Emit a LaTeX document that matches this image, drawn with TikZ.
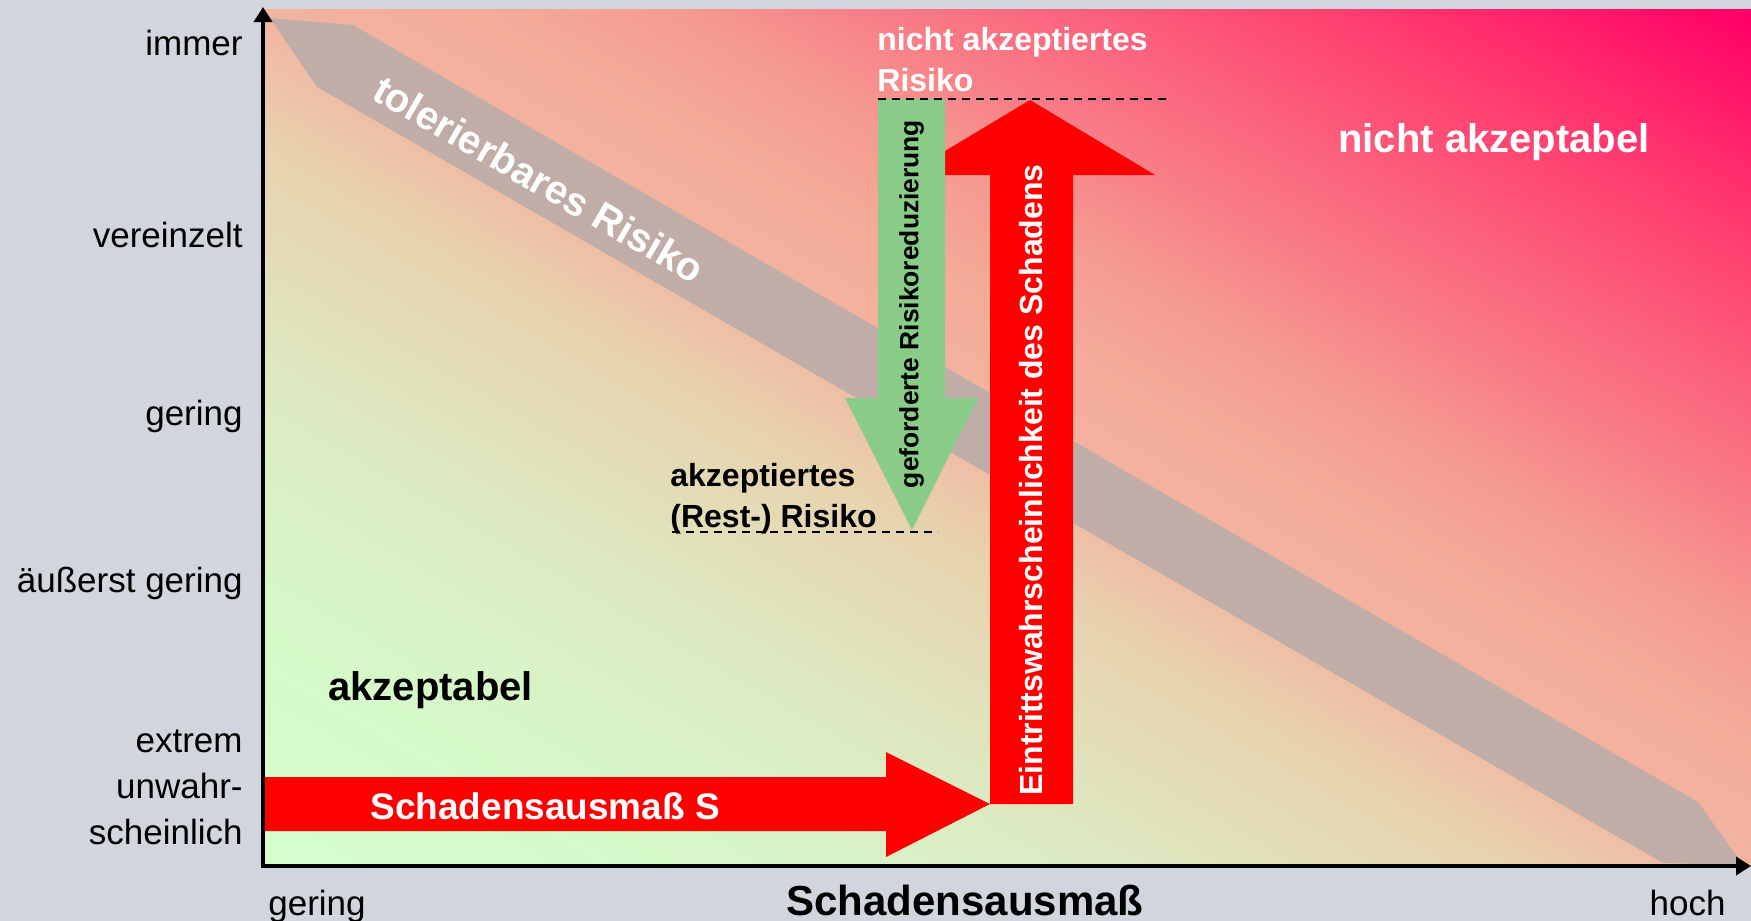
\documentclass[tikz,border=0pt]{standalone}
\usepackage{fontspec}
\setmainfont{Liberation Sans}
\usetikzlibrary{arrows.meta}

\definecolor{bggray}{HTML}{D1D5DE}
\definecolor{riskred}{HTML}{FF0000}
\definecolor{riskgreen}{HTML}{88CC88}
\definecolor{bandgray}{HTML}{C1ADA8}
\definecolor{fieldA}{HTML}{D4FFCC}
\definecolor{fieldB}{HTML}{D6F8C8}
\definecolor{fieldC}{HTML}{DDEAC2}
\definecolor{fieldD}{HTML}{E8D2AE}
\definecolor{fieldE}{HTML}{F2B4A0}
\definecolor{fieldF}{HTML}{F4AA98}
\definecolor{fieldG}{HTML}{F59A90}
\definecolor{fieldH}{HTML}{F88088}
\definecolor{fieldJ}{HTML}{FF4070}
\definecolor{fieldK}{HTML}{FF0066}

\pgfdeclareverticalshading{riskfield}{100bp}{color(0bp)=(fieldA); color(25.25bp)=(fieldA);
  color(32.68bp)=(fieldB); color(39.11bp)=(fieldC); color(46.04bp)=(fieldD);
  color(50bp)=(fieldE); color(53.96bp)=(fieldF); color(56.93bp)=(fieldG);
  color(59.9bp)=(fieldH); color(67.82bp)=(fieldJ); color(74.75bp)=(fieldK); color(100bp)=(fieldK)}

\begin{document}
\begin{tikzpicture}[x=0.5pt, y=-0.5pt,
    every node/.style={inner sep=0pt},
    axis/.style={line width=2pt, {Triangle[width=9pt,length=7.5pt]}-{Triangle[width=9pt,length=7.5pt]}},
    dashline/.style={line width=1pt, dash pattern=on 4pt off 3pt},
    ylabel/.style={anchor=base east, font=\fontsize{17.5}{23}\selectfont},
    xlabel/.style={font=\fontsize{17.5}{23}\selectfont},
    zone/.style={font=\fontsize{20}{24}\selectfont\bfseries},
    marker/.style={font=\fontsize{16}{20.5}\selectfont\bfseries, align=left, anchor=base west},
    inarrow/.style={font=\fontsize{16}{20}\selectfont\bfseries, text=white}]

    \useasboundingbox (0,0) rectangle (1751,921);
    \fill[bggray] (0,0) rectangle (1751,921);

    % Define the corners
    \coordinate (O) at (263,866);
    \coordinate (ytip) at (263,7);
    \coordinate (xtip) at (1751,866);

    % Risk field and tolerable band
    \begin{scope}
        \clip (263,9) rectangle (1751,866);
        \shade[shading=riskfield, shading angle=-29.94] (257,-312.5) rectangle (1757,1187.5);
    \end{scope}
    \fill[bandgray] (270,18) -- (353,25) -- (1698,802) -- (1743,865) -- (1663,863) -- (317,87) -- cycle;

    % Arrows
    \fill[riskred] (990,804) -- (990,175) -- (905,175) -- (1030,100) -- (1155,175) -- (1073,175) -- (1073,804) -- cycle;
    \fill[riskgreen] (878,99) -- (945,99) -- (945,398) -- (978,398) -- (912,530) -- (845,398) -- (878,398) -- cycle;
    \fill[riskred] (263,777) -- (886,777) -- (886,752) -- (990,804) -- (886,857) -- (886,831) -- (263,831) -- cycle;

    % Axes
    \draw[axis] (ytip) -- (O) -- (xtip);

    % Risk levels
    \coordinate (top-l) at (878,99);
    \coordinate (top-r) at (1167,99);
    \coordinate (rest-l) at (672,532);
    \coordinate (rest-r) at (938,532);
    \draw[dashline] (top-l) -- (top-r);
    \draw[dashline] (rest-l) -- (rest-r);

    % Axis labels
    \node[ylabel] (l-immer) at (243,55) {immer};
    \node[ylabel] (l-verein) at (243,247) {vereinzelt};
    \node[ylabel] (l-gering) at (243,425) {gering};
    \node[ylabel] (l-aeuss) at (243,592) {äußerst gering};
    \node[ylabel, align=right] (l-extrem) at (243,844) {extrem\\unwahr-\\scheinlich};
    \node[xlabel, anchor=base west] (x-gering) at (268,915) {gering};
    \node[font=\fontsize{21}{25}\selectfont\bfseries, anchor=base] (x-title) at (965,915) {Schadensausmaß};
    \node[xlabel, anchor=base east] (x-hoch) at (1726,915) {hoch};

    % Zones
    \node[zone, text=white, anchor=base west] (nacc) at (1338,152) {nicht akzeptabel};
    \node[zone, anchor=base west] (acc) at (328,700) {akzeptabel};
    \node[zone, text=white, rotate=-30] (tol) at (539,179) {tolerierbares Risiko};
    \node[marker, text=white] (nacc-risk) at (877,91) {nicht akzeptiertes\\Risiko};
    \node[marker] (rest-risk) at (670,527) {akzeptiertes\\(Rest-) Risiko};

    % Arrow labels
    \node[inarrow, font=\fontsize{18.5}{22}\selectfont\bfseries, anchor=base west] (s-label) at (370,819) {Schadensausmaß S};
    \node[inarrow, rotate=90] (p-label) at (1031,480) {Eintrittswahrscheinlichkeit des Schadens};
    \node[font=\fontsize{13.2}{16}\selectfont\bfseries, rotate=90] (red-label) at (911.5,304) {geforderte Risikoreduzierung};

\end{tikzpicture}
\end{document}
